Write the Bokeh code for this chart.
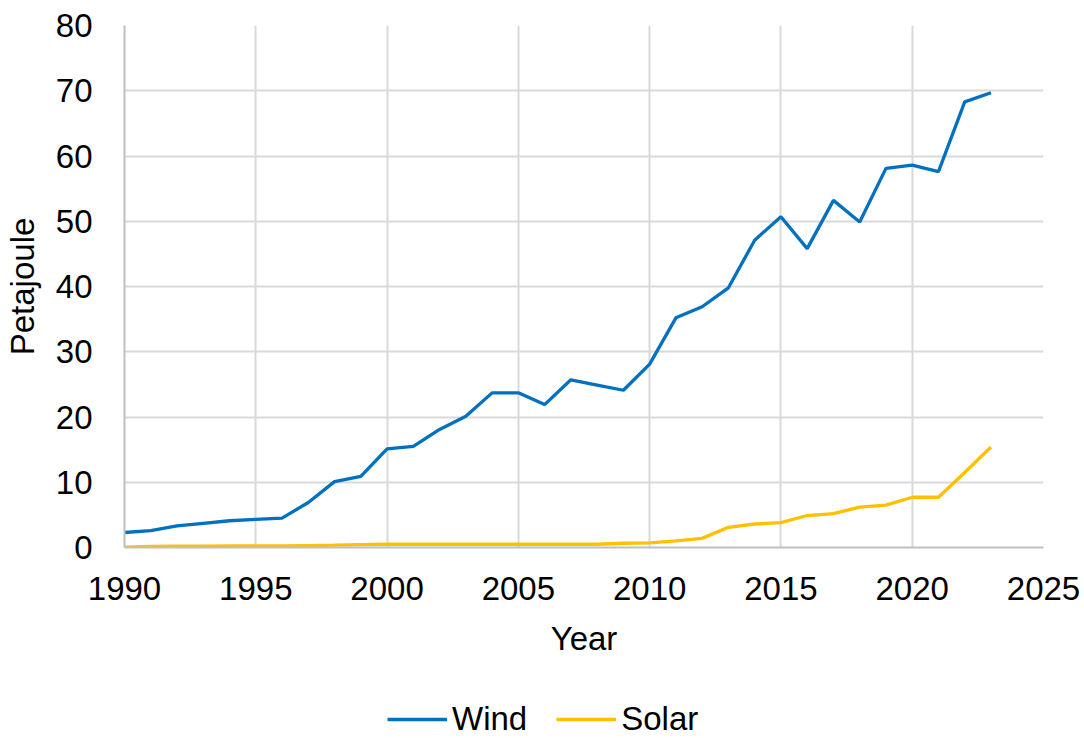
from bokeh.plotting import figure
from bokeh.models import Legend, LegendItem, FixedTicker, Range1d
from bokeh.layouts import column
from bokeh.embed import file_html
from bokeh.resources import INLINE

years = list(range(1990, 2024))
wind = [2.3, 2.6, 3.3, 3.7, 4.1, 4.3, 4.5, 6.9, 10.1, 10.9,
        15.1, 15.5, 18.1, 20.1, 23.7, 23.7, 21.9, 25.7, 24.9, 24.1,
        28.1, 35.2, 36.9, 39.8, 47.1, 50.7, 45.8, 53.2, 49.9, 58.1,
        58.6, 57.6, 68.3, 69.7]
solar = [0.05, 0.15, 0.2, 0.2, 0.25, 0.25, 0.25, 0.3, 0.35, 0.45,
         0.5, 0.5, 0.5, 0.5, 0.5, 0.5, 0.5, 0.5, 0.5, 0.65,
         0.7, 1.0, 1.4, 3.1, 3.6, 3.8, 4.9, 5.2, 6.2, 6.5,
         7.7, 7.7, 11.5, 15.4]
x_ticks = [1990, 1995, 2000, 2005, 2010, 2015, 2020, 2025]
y_ticks = [0, 10, 20, 30, 40, 50, 60, 70, 80]

FONT = "Liberation Sans"
WIND_C = "#0070C0"
SOLAR_C = "#FFC000"

p = figure(width=1084, height=694, output_backend="svg", toolbar_location=None,
           x_range=Range1d(1990, 2025), y_range=Range1d(0, 80),
           min_border_left=124, min_border_right=41, min_border_top=25,
           min_border_bottom=147)
p.outline_line_color = None
p.background_fill_color = "white"

p.line(years, wind, line_color=WIND_C, line_width=3.3)
p.line(years, solar, line_color=SOLAR_C, line_width=3.3)

for ax in (p.xaxis[0], p.yaxis[0]):
    ax.major_tick_line_color = None
    ax.minor_tick_line_color = None
    ax.axis_line_color = "#bfbfbf"
    ax.axis_line_width = 2
    ax.major_label_text_font = FONT
    ax.major_label_text_font_size = "33px"
    ax.major_label_text_color = "#000000"
    ax.axis_label_text_font = FONT
    ax.axis_label_text_font_size = "33px"
    ax.axis_label_text_font_style = "normal"
    ax.axis_label_text_color = "#000000"

p.xaxis.ticker = FixedTicker(ticks=x_ticks)
p.yaxis.ticker = FixedTicker(ticks=y_ticks)
p.xaxis.axis_label = "Year"
p.yaxis.axis_label = "Petajoule"
p.xaxis.major_label_standoff = 23
p.xaxis.axis_label_standoff = 17
p.yaxis.major_label_standoff = 26
p.yaxis.axis_label_standoff = 12

p.xgrid.ticker = FixedTicker(ticks=x_ticks)
p.ygrid.ticker = FixedTicker(ticks=y_ticks)
for g in (p.xgrid[0], p.ygrid[0]):
    g.grid_line_color = "#d9d9d9"
    g.grid_line_width = 2

# legend strip below the chart (its lines lie outside the visible range)
lg = figure(width=1084, height=44, output_backend="svg", toolbar_location=None,
            x_range=Range1d(0, 1), y_range=Range1d(0, 1),
            min_border=0, min_border_left=0, min_border_right=0,
            min_border_top=0, min_border_bottom=0)
lg.axis.visible = False
lg.grid.visible = False
lg.outline_line_color = None
lw = lg.line(years, wind, line_color=WIND_C, line_width=3.3)
ls = lg.line(years, solar, line_color=SOLAR_C, line_width=3.3)

legend = Legend(items=[LegendItem(label="Wind", renderers=[lw]),
                       LegendItem(label="Solar", renderers=[ls])],
                orientation="horizontal", location=(263, 0))
legend.label_text_font = FONT
legend.label_text_font_size = "33px"
legend.label_text_color = "#000000"
legend.glyph_width = 60
legend.label_standoff = 5
legend.spacing = 29
legend.border_line_color = None
legend.background_fill_alpha = 0
legend.padding = 0
legend.margin = 0
lg.add_layout(legend, "center")

layout = column(p, lg, spacing=0)
open("out.html", "w").write(file_html(layout, INLINE))
